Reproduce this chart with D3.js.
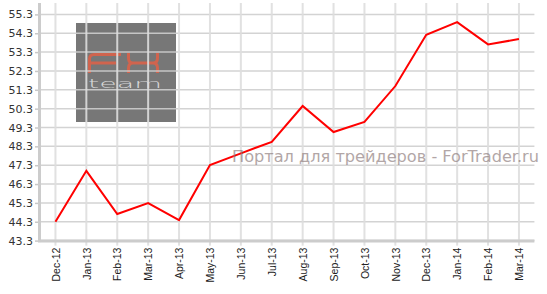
<!DOCTYPE html>
<html><head><meta charset="utf-8">
<script src="https://cdn.jsdelivr.net/npm/d3@7"></script>
<style>body{margin:0;background:#fff}svg{display:block}</style>
</head><body>
<script>
const categories = ["Dec-12","Jan-13","Feb-13","Mar-13","Apr-13","May-13","Jun-13","Jul-13","Aug-13","Sep-13","Oct-13","Nov-13","Dec-13","Jan-14","Feb-14","Mar-14"];
const values = [44.3,47.0,44.71,45.29,44.39,47.31,47.93,48.54,50.44,49.06,49.6,51.5,54.22,54.89,53.71,53.99];
const yTicks = [43.3,44.3,45.3,46.3,47.3,48.3,49.3,50.3,51.3,52.3,53.3,54.3,55.3];
const watermark = "Портал для трейдеров - ForTrader.ru";

(function(){
const W=547,H=294;
const svg=d3.select("body").append("svg").attr("width",W).attr("height",H);
const pL=40,pR=534.4,pT=3,pB=240.6;
const x=d3.scalePoint().domain(categories).range([pL,pR]).padding(0.5);
const y=d3.scaleLinear().domain([43.3,55.3]).range([pB,14.4]);

// logo
const logo=svg.append("g");
logo.append("rect").attr("x",76).attr("y",23).attr("width",100).attr("height",99).attr("fill","#777");
const fx=logo.append("g").attr("fill","none").attr("stroke","#d0644e").attr("stroke-width",3).attr("stroke-linecap","butt");
fx.append("path").attr("d","M89.5,73 V59 Q89.5,54.5 94,54.5 H121 M89.5,63 H116");
fx.append("path").attr("d","M128.5,53 V58 Q128.5,63 133,63 H153 Q157.5,63 157.5,58 V53 M128.5,73 V68 Q128.5,63 133,63 M153,63 Q157.5,63 157.5,68 V73");
logo.append("text").attr("x",88).attr("y",88).attr("font-family","DejaVu Sans").attr("font-weight",200)
  .attr("font-size",12).attr("fill","#d8d8d8").attr("textLength",74).attr("lengthAdjust","spacingAndGlyphs").text("team");

// grid
const g=svg.append("g");
g.selectAll(".hg").data(yTicks).join("line").attr("x1",pL).attr("x2",pR)
  .attr("y1",d=>y(d)).attr("y2",d=>y(d)).attr("stroke","#cfcfcf").attr("stroke-width",1.5).attr("opacity",0.9);
g.selectAll(".vg").data(categories).join("line").attr("x1",d=>x(d)).attr("x2",d=>x(d))
  .attr("y1",pT).attr("y2",pB+5).attr("stroke","#dedede").attr("stroke-width",2).attr("opacity",0.9);

// y axis
const ya=svg.append("g").attr("transform",`translate(${pL},0)`)
  .call(d3.axisLeft(y).tickValues(yTicks).tickFormat(d3.format(".1f")).tickSize(5).tickPadding(2));
ya.select(".domain").remove();
ya.selectAll(".tick line").attr("stroke","#c8c8c8").attr("stroke-width",1.5);
ya.selectAll("text").attr("font-family","DejaVu Sans").attr("font-size",11).attr("fill","#333");
svg.append("line").attr("x1",pL-0.5).attr("x2",pL-0.5).attr("y1",pT).attr("y2",pB+1.5).attr("stroke","#cccccc").attr("stroke-width",3);

// x axis
const xa=svg.append("g").attr("transform",`translate(0,${pB})`)
  .call(d3.axisBottom(x).tickSize(0).tickPadding(0));
xa.select(".domain").remove();
xa.selectAll("text").attr("font-family","Liberation Sans").attr("font-size",10.5).attr("fill","#222")
  .attr("text-anchor","end").attr("transform","rotate(-90)").attr("x",-7).attr("y",0).attr("dy","0.35em");
svg.append("line").attr("x1",pL-2).attr("x2",pR).attr("y1",pB+0.5).attr("y2",pB+0.5).attr("stroke","#cccccc").attr("stroke-width",3);

// line
svg.append("path").datum(values).attr("fill","none").attr("stroke","#ff0000").attr("stroke-width",2)
  .attr("stroke-linejoin","miter")
  .attr("d",d3.line().x((d,i)=>x(categories[i])).y(d=>y(d)));

// watermark
svg.append("text").attr("x",232).attr("y",162).attr("font-family","DejaVu Sans").attr("font-size",16)
  .attr("fill","#8a7878").attr("opacity",0.65).attr("textLength",307).attr("lengthAdjust","spacingAndGlyphs").text(watermark);
})();
</script>
</body></html>
